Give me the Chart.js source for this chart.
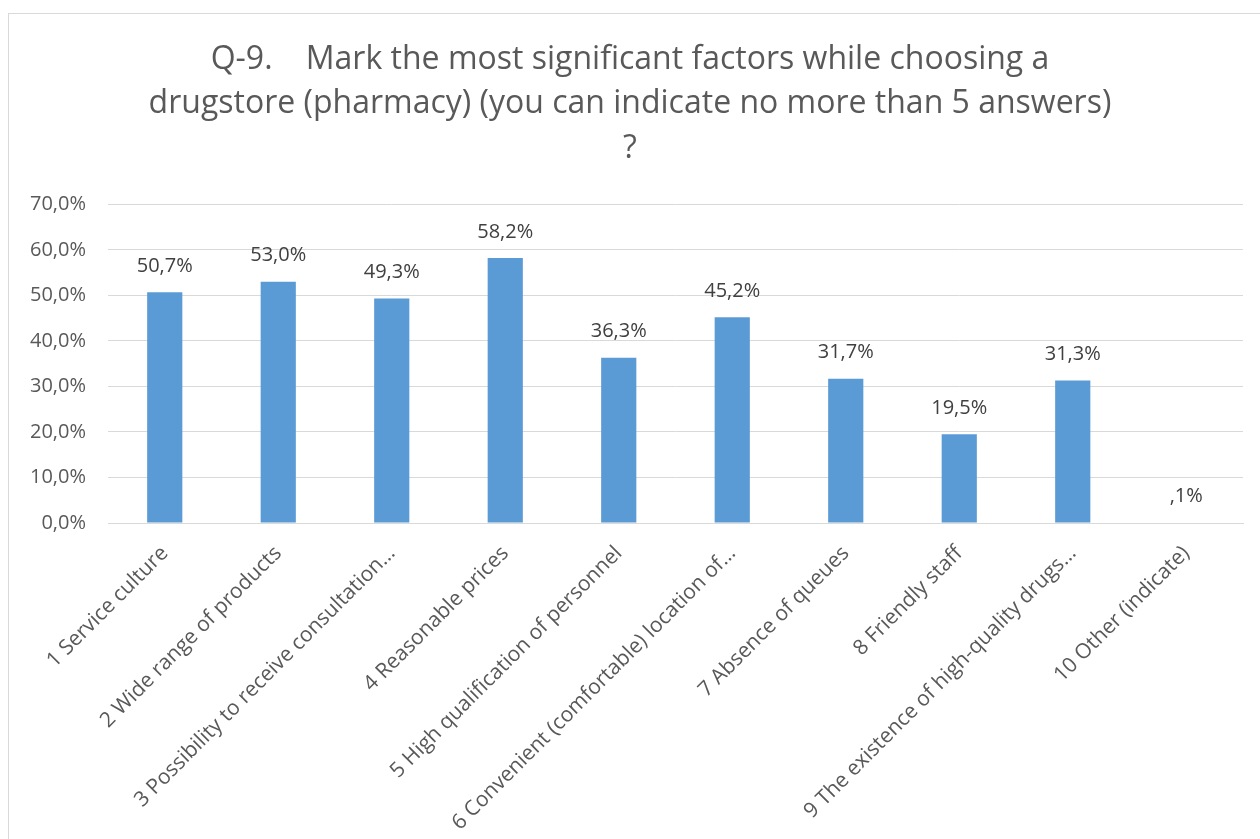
<!DOCTYPE html>
<html>
<head>
<meta charset="utf-8">
<script src="https://cdn.jsdelivr.net/npm/chart.js@4.4.1/dist/chart.umd.min.js"></script>
<style>
    html, body { margin: 0; padding: 0; background: #ffffff; }
    #wrap { position: relative; width: 1260px; height: 839px; }
    #frame { position: absolute; left: 8px; top: 13px; right: -2px; bottom: -2px; border: 1px solid #d9d9d9; }
    #chart { position: absolute; left: 0; top: 0; }
</style>
</head>
<body>
<div id="wrap">
    <div id="frame"></div>
    <canvas id="chart" width="1260" height="839"></canvas>
</div>
<script>
const categories = [
    '1 Service culture',
    '2 Wide range of products',
    '3 Possibility to receive consultation…',
    '4 Reasonable prices',
    '5 High qualification of personnel',
    '6 Convenient (comfortable) location of…',
    '7 Absence of queues',
    '8 Friendly staff',
    '9 The existence of high-quality drugs…',
    '10 Other (indicate)'
];
const shares = [50.7, 53.0, 49.3, 58.2, 36.3, 45.2, 31.7, 19.5, 31.3, 0.1];
const titleLines = [
    'Q-9.    Mark the most significant factors while choosing a',
    'drugstore (pharmacy) (you can indicate no more than 5 answers)',
    '?'
];

const FONT = "'Open Sans', sans-serif";
const TEXT = '#595959';

// percent with a comma, leading zero dropped below 1 (",1%")
function fmtLabel(v) {
    let s = v.toFixed(1).replace('.', ',');
    if (v < 1) s = s.replace(/^0/, '');
    return s + '%';
}

// value labels over each bar
const barLabels = {
    id: 'barLabels',
    afterDatasetsDraw(chart) {
        const ctx = chart.ctx;
        const meta = chart.getDatasetMeta(0);
        ctx.save();
        ctx.font = '20px ' + FONT;
        ctx.fillStyle = '#404040';
        ctx.textAlign = 'center';
        ctx.textBaseline = 'middle';
        meta.data.forEach((bar, i) => {
            ctx.fillText(fmtLabel(shares[i]), bar.x, bar.y - 26);
        });
        ctx.restore();
    }
};

new Chart(document.getElementById('chart'), {
    type: 'bar',
    data: {
        labels: categories,
        datasets: [{
            data: shares,
            backgroundColor: '#5b9bd5',
            borderColor: '#5b9bd5',
            borderWidth: 0,
            categoryPercentage: 1,
            barPercentage: 0.31
        }]
    },
    options: {
        responsive: false,
        animation: false,
        layout: { padding: { left: 17, right: 17, top: 0, bottom: 0 } },
        plugins: {
            legend: { display: false },
            tooltip: { enabled: false },
            title: {
                display: true,
                text: titleLines,
                color: TEXT,
                font: { family: FONT, size: 32, weight: 'normal', lineHeight: 1.4 },
                padding: { top: 37, bottom: 33 }
            }
        },
        scales: {
            x: {
                grid: { display: false, drawTicks: false },
                border: { color: '#d9d9d9', width: 1 },
                ticks: {
                    color: TEXT,
                    font: { family: FONT, size: 21 },
                    minRotation: 45,
                    maxRotation: 45,
                    autoSkip: false,
                    padding: 18
                },
                afterFit(scale) { scale.height = 316; }
            },
            y: {
                min: 0,
                max: 70,
                grid: { color: '#d9d9d9', drawTicks: false },
                border: { display: false },
                ticks: {
                    stepSize: 10,
                    color: TEXT,
                    font: { family: FONT, size: 20 },
                    padding: 22,
                    callback: v => v.toFixed(1).replace('.', ',') + '%'
                },
                afterFit(scale) { scale.width = 91; }
            }
        }
    },
    plugins: [barLabels]
});
</script>
</body>
</html>
